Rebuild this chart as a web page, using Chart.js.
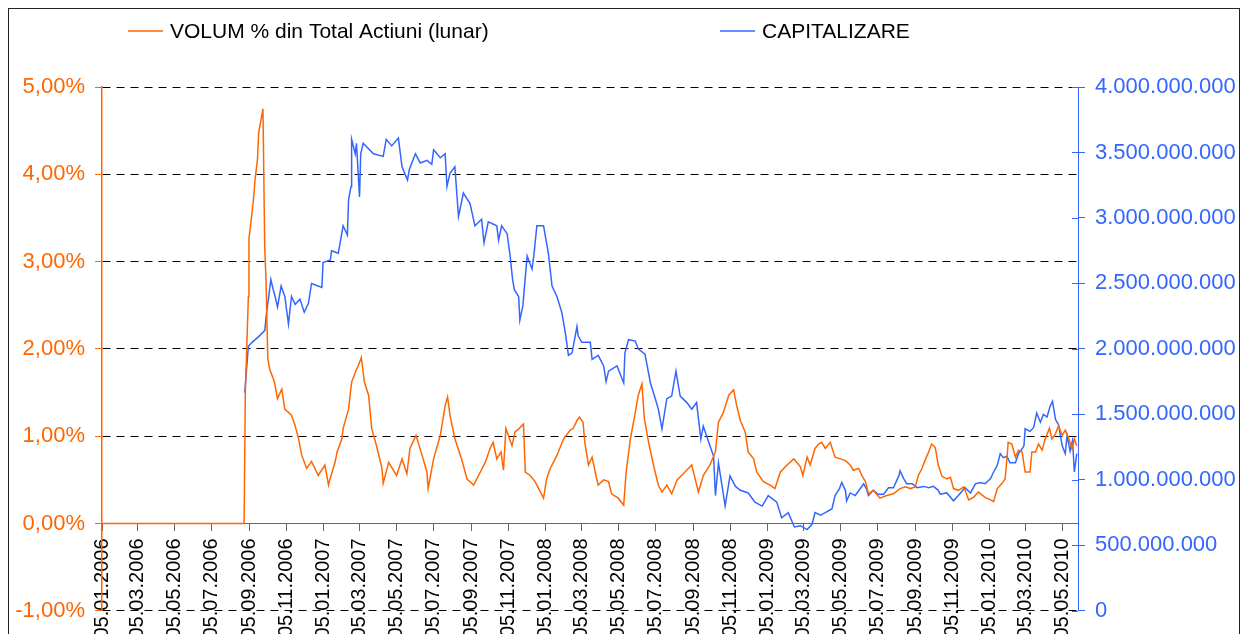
<!DOCTYPE html>
<html>
<head>
<meta charset="utf-8">
<script src="https://cdn.jsdelivr.net/npm/chart.js@4.4.1/dist/chart.umd.min.js"></script>
<style>
  html, body { margin: 0; padding: 0; background: #fff; }
  #wrap { width: 1245px; height: 634px; }
</style>
</head>
<body>
<div id="wrap"><canvas id="chart" width="1245" height="634"></canvas></div>
<script>
// x = trading day offset from 05.01.2006

// tick labels on the date axis
const dateLabels = [
  '05.01.2006', '05.03.2006', '05.05.2006', '05.07.2006', '05.09.2006', '05.11.2006',
  '05.01.2007', '05.03.2007', '05.05.2007', '05.07.2007', '05.09.2007', '05.11.2007',
  '05.01.2008', '05.03.2008', '05.05.2008', '05.07.2008', '05.09.2008', '05.11.2008',
  '05.01.2009', '05.03.2009', '05.05.2009', '05.07.2009', '05.09.2009', '05.11.2009',
  '05.01.2010', '05.03.2010', '05.05.2010'
];
const lastDay = 1607; // ~01.06.2010

// VOLUM % din Total Actiuni (lunar)
const volDay = [
  0, 234, 236, 241, 242, 246, 249, 252, 256, 258, 263, 265, 268, 270, 273, 276, 284, 289, 296, 301,
  312, 318, 323, 329, 337, 345, 356, 367, 373, 375, 384, 387, 395, 397, 406, 411, 417, 422, 427, 432,
  439, 444, 452, 461, 463, 472, 485, 494, 502, 507, 517, 527, 535, 537, 546, 557, 565, 569, 573, 581,
  592, 601, 612, 620, 631, 639, 644, 650, 657, 661, 665, 675, 680, 687, 694, 697, 705, 713, 719, 727,
  732, 738, 749, 760, 771, 776, 782, 786, 792, 795, 801, 807, 812, 817, 826, 834, 839, 850, 859, 863,
  870, 878, 883, 889, 893, 900, 908, 916, 922, 930, 938, 947, 957, 971, 982, 990, 1001, 1010, 1015, 1023,
  1032, 1040, 1045, 1051, 1059, 1064, 1073, 1078, 1089, 1100, 1108, 1117, 1128, 1139, 1150, 1154, 1161, 1166, 1174, 1180,
  1185, 1191, 1199, 1207, 1216, 1224, 1232, 1237, 1246, 1251, 1257, 1262, 1270, 1281, 1292, 1303, 1314, 1323, 1331, 1339,
  1344, 1350, 1355, 1361, 1366, 1372, 1377, 1383, 1391, 1397, 1402, 1410, 1419, 1427, 1435, 1443, 1454, 1463, 1468, 1474,
  1482, 1487, 1490, 1492, 1498, 1504, 1509, 1515, 1520, 1528, 1531, 1537, 1542, 1548, 1553, 1560, 1564, 1570, 1575, 1581,
  1586, 1592, 1597, 1601, 1605
];
const volPct = [
  0, 0, 1.5, 2.6, 3.26, 3.5, 3.68, 3.94, 4.17, 4.48, 4.67, 4.75, 3.14, 2.8, 1.89, 1.77, 1.62, 1.43, 1.54, 1.31,
  1.24, 1.12, 0.99, 0.78, 0.63, 0.71, 0.55, 0.67, 0.44, 0.50, 0.71, 0.82, 0.97, 1.09, 1.31, 1.62, 1.73, 1.81, 1.90, 1.62,
  1.47, 1.09, 0.89, 0.63, 0.46, 0.70, 0.55, 0.74, 0.57, 0.86, 1.01, 0.78, 0.59, 0.40, 0.74, 1.01, 1.35, 1.45, 1.24, 0.97,
  0.74, 0.51, 0.44, 0.55, 0.70, 0.86, 0.93, 0.74, 0.82, 0.61, 1.09, 0.89, 1.05, 1.09, 1.14, 0.59, 0.55, 0.48, 0.40, 0.29,
  0.51, 0.63, 0.78, 0.97, 1.07, 1.09, 1.18, 1.22, 1.16, 0.93, 0.67, 0.76, 0.59, 0.44, 0.50, 0.48, 0.34, 0.29, 0.21, 0.59,
  0.97, 1.27, 1.47, 1.60, 1.20, 0.93, 0.67, 0.44, 0.36, 0.44, 0.34, 0.50, 0.57, 0.67, 0.36, 0.55, 0.67, 0.82, 1.16, 1.27,
  1.47, 1.53, 1.35, 1.18, 1.05, 0.82, 0.74, 0.59, 0.48, 0.44, 0.40, 0.59, 0.67, 0.74, 0.65, 0.55, 0.76, 0.67, 0.86, 0.91,
  0.93, 0.86, 0.93, 0.76, 0.74, 0.72, 0.67, 0.61, 0.63, 0.55, 0.48, 0.34, 0.38, 0.29, 0.32, 0.34, 0.40, 0.42, 0.40, 0.42,
  0.55, 0.63, 0.72, 0.82, 0.91, 0.87, 0.67, 0.54, 0.51, 0.53, 0.40, 0.38, 0.42, 0.27, 0.30, 0.36, 0.30, 0.27, 0.25, 0.40,
  0.46, 0.51, 0.74, 0.93, 0.91, 0.76, 0.84, 0.82, 0.59, 0.59, 0.82, 0.82, 0.91, 0.84, 0.97, 1.09, 0.97, 1.03, 1.12, 1.01,
  1.07, 0.97, 0.86, 0.97, 0.89
];

// CAPITALIZARE (millions)
const capDay = [
  235, 241, 247, 257, 268, 271, 274, 278, 282, 285, 289, 295, 301, 307, 312, 318, 326, 333, 340, 345,
  362, 364, 376, 378, 389, 397, 404, 406, 410, 411, 417, 419, 424, 426, 430, 447, 463, 468, 477, 488,
  494, 503, 506, 516, 524, 535, 543, 546, 557, 565, 568, 573, 581, 587, 595, 606, 614, 625, 629, 636,
  650, 653, 658, 667, 672, 676, 679, 686, 688, 693, 700, 708, 711, 716, 727, 735, 741, 749, 757, 763,
  768, 774, 782, 784, 790, 804, 807, 817, 826, 830, 834, 848, 859, 861, 867, 878, 883, 894, 903, 911,
  916, 922, 930, 938, 945, 952, 963, 971, 979, 986, 990, 1001, 1007, 1010, 1015, 1021, 1026, 1034, 1043, 1051,
  1064, 1075, 1087, 1097, 1111, 1119, 1130, 1140, 1150, 1161, 1169, 1174, 1183, 1191, 1202, 1207, 1214, 1218, 1224, 1226,
  1232, 1240, 1248, 1254, 1259, 1262, 1270, 1278, 1287, 1295, 1303, 1312, 1314, 1320, 1325, 1334, 1342, 1353, 1361, 1369,
  1377, 1380, 1391, 1402, 1410, 1421, 1430, 1438, 1446, 1454, 1463, 1468, 1474, 1479, 1484, 1490, 1495, 1504, 1509, 1514,
  1518, 1520, 1528, 1534, 1539, 1545, 1550, 1556, 1561, 1565, 1570, 1575, 1581, 1586, 1589, 1594, 1598, 1601, 1605
];
const capMil = [
  1666, 2020, 2050, 2090, 2140, 2280, 2380, 2530, 2450, 2400, 2320, 2480, 2400, 2190, 2400, 2340, 2380, 2280, 2350, 2500,
  2470, 2660, 2680, 2750, 2730, 2940, 2870, 3140, 3240, 3600, 3490, 3570, 3160, 3490, 3570, 3490, 3470, 3600, 3550, 3610,
  3390, 3290, 3370, 3490, 3420, 3440, 3410, 3520, 3460, 3490, 3240, 3340, 3390, 3010, 3190, 3110, 2940, 2990, 2810, 2970,
  2940, 2830, 2940, 2880, 2710, 2530, 2450, 2400, 2220, 2330, 2710, 2610, 2710, 2940, 2940, 2730, 2480, 2400, 2280, 2120,
  1950, 1970, 2170, 2100, 2050, 2050, 1920, 1950, 1870, 1750, 1830, 1870, 1740, 1970, 2070, 2060, 2000, 1960, 1740, 1620,
  1540, 1390, 1620, 1640, 1830, 1640, 1590, 1540, 1590, 1310, 1410, 1260, 1180, 880, 1130, 950, 800, 1030, 950, 920,
  900, 830, 800, 880, 830, 710, 750, 640, 650, 620, 660, 750, 730, 750, 780, 880, 930, 980, 920, 840,
  900, 880, 930, 970, 930, 880, 920, 890, 890, 940, 940, 1030, 1070, 1010, 970, 970, 940, 950, 940, 950,
  920, 890, 900, 840, 880, 940, 900, 970, 980, 970, 1010, 1060, 1110, 1200, 1170, 1180, 1130, 1130, 1200, 1230,
  1260, 1390, 1370, 1400, 1510, 1440, 1500, 1480, 1560, 1600, 1460, 1420, 1260, 1200, 1340, 1220, 1300, 1060, 1200
];

const ORANGE = '#FF6600';
const BLUE = '#3366FF';
const FONT = "'Liberation Sans', Arial, sans-serif";

// day offset of every date label
const day0 = Date.UTC(2006, 0, 5);
const tickDays = dateLabels.map(s => {
  const [d, m, y] = s.split('.').map(Number);
  return Math.round((Date.UTC(y, m - 1, d) - day0) / 86400000);
});

function dots(n) {
  return String(Math.round(n)).replace(/\B(?=(\d{3})+(?!\d))/g, '.');
}

// legend drawn at fixed spots, as in the original
const topLegend = {
  id: 'topLegend',
  afterDraw(chart) {
    const ctx = chart.ctx;
    const spots = [128, 720];
    ctx.save();
    chart.data.datasets.forEach((ds, i) => {
      const x = spots[i], y = 31;
      ctx.strokeStyle = ds.borderColor;
      ctx.lineWidth = 1.5;
      ctx.beginPath();
      ctx.moveTo(x, y);
      ctx.lineTo(x + 35, y);
      ctx.stroke();
      ctx.fillStyle = '#000';
      ctx.font = '21px ' + FONT;
      ctx.textBaseline = 'middle';
      ctx.fillText(ds.label, x + 42, y + 1);
    });
    ctx.restore();
  }
};

// frame + inner half of right axis ticks
const frame = {
  id: 'frame',
  afterDraw(chart) {
    const ctx = chart.ctx;
    ctx.save();
    ctx.strokeStyle = '#222';
    ctx.lineWidth = 1;
    ctx.strokeRect(8.5, 8.5, 1231, 640);
    const r = chart.scales.y1;
    ctx.strokeStyle = BLUE;
    r.ticks.forEach(t => {
      const py = Math.round(r.getPixelForValue(t.value)) + 0.5;
      ctx.beginPath();
      ctx.moveTo(r.left - 6, py);
      ctx.lineTo(r.left, py);
      ctx.stroke();
    });
    ctx.restore();
  }
};

new Chart(document.getElementById('chart'), {
  type: 'line',
  data: {
    datasets: [
      {
        label: 'VOLUM % din Total Actiuni (lunar)',
        data: volDay.map((d, i) => ({ x: d, y: volPct[i] })),
        borderColor: ORANGE,
        borderWidth: 1.5,
        pointRadius: 0,
        tension: 0,
        yAxisID: 'y'
      },
      {
        label: 'CAPITALIZARE',
        data: capDay.map((d, i) => ({ x: d, y: capMil[i] * 1e6 })),
        borderColor: BLUE,
        borderWidth: 1.5,
        pointRadius: 0,
        tension: 0,
        yAxisID: 'y1'
      }
    ]
  },
  options: {
    responsive: false,
    animation: false,
    layout: { padding: { top: 87, bottom: 22, left: 0, right: 0 } },
    plugins: { legend: { display: false }, tooltip: { enabled: false } },
    scales: {
      x: {
        type: 'linear',
        min: 0,
        max: lastDay,
        position: { y: 0 },
        afterBuildTicks: s => { s.ticks = tickDays.map(v => ({ value: v })); },
        ticks: {
          autoSkip: false,
          minRotation: 90,
          maxRotation: 90,
          padding: 8,
          color: '#000',
          font: { family: FONT, size: 20 },
          callback: v => dateLabels[tickDays.indexOf(v)]
        },
        grid: { drawOnChartArea: false, tickLength: 7, tickColor: '#666', tickBorderDash: [] },
        border: { color: '#666', width: 1 }
      },
      y: {
        position: 'left',
        min: -1,
        max: 5,
        afterFit: s => { s.width = 102; },
        ticks: {
          stepSize: 1,
          color: ORANGE,
          padding: 10,
          font: { family: FONT, size: 22 },
          callback: v => v.toFixed(2).replace('.', ',') + '%'
        },
        grid: {
          color: c => (c.tick && c.tick.value === 0 ? 'rgba(0,0,0,0)' : '#000'),
          lineWidth: 1,
          tickLength: 7,
          tickColor: ORANGE,
          tickBorderDash: []
        },
        border: { color: ORANGE, width: 1.5, dash: [8, 6] }
      },
      y1: {
        position: 'right',
        min: 0,
        max: 4e9,
        afterFit: s => { s.width = 167; },
        ticks: {
          stepSize: 5e8,
          color: BLUE,
          padding: 10,
          font: { family: FONT, size: 22 },
          callback: v => dots(v)
        },
        grid: { drawOnChartArea: false, tickLength: 7, tickColor: BLUE, tickBorderDash: [] },
        border: { color: BLUE, width: 1 }
      }
    }
  },
  plugins: [topLegend, frame]
});
</script>
</body>
</html>
